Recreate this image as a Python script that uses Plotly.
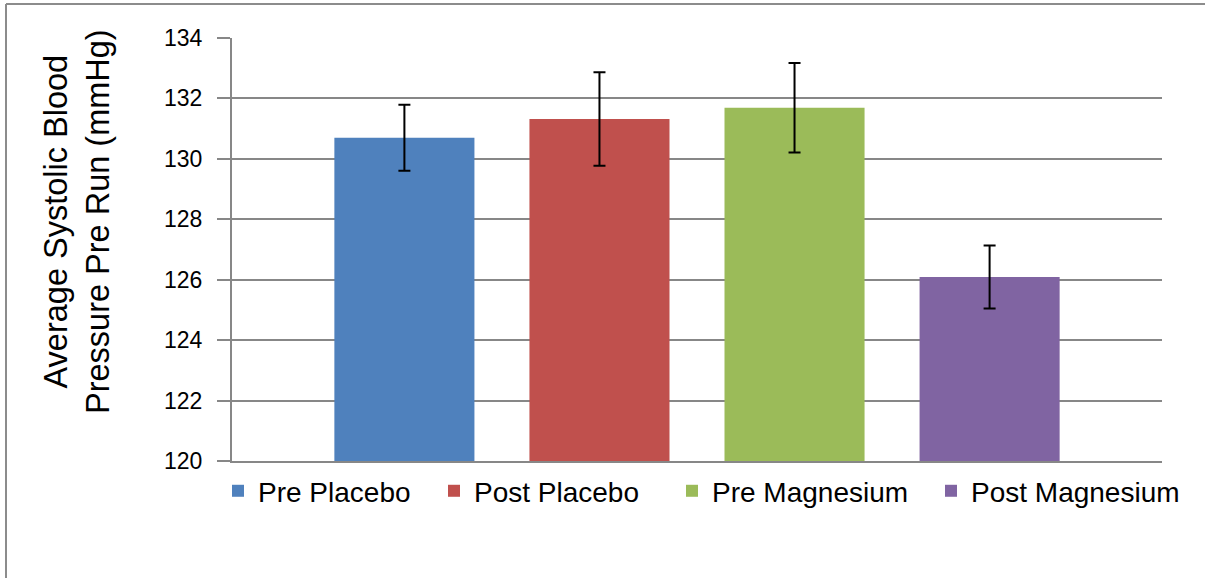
import plotly.graph_objects as go

categories = ["Pre Placebo", "Post Placebo", "Pre Magnesium", "Post Magnesium"]
values = [130.7, 131.32, 131.69, 126.09]
errors = [1.09, 1.55, 1.48, 1.04]
colors = ["#4F81BD", "#C0504D", "#9BBB59", "#8064A2"]
y_ticks = [120, 122, 124, 126, 128, 130, 132, 134]
y_title = "Average Systolic Blood<br>Pressure Pre Run (mmHg)"

FONT = "Liberation Sans, Arial, sans-serif"
GRID = "#878787"

L, T = 232, 38
PW = 1205 - L          # paper width (margin r = 0)
PH = 578 - T - 117     # paper height
AXW = 930              # axis width in px

def px(x):
    return (x - L) / PW

def py(y):
    return 1 - (y - T) / PH

legend_ids = ["legend", "legend2", "legend3", "legend4"]
legend_left = [218, 434, 672, 931]

fig = go.Figure()
for name, v, e, c, lid in zip(categories, values, errors, colors, legend_ids):
    fig.add_trace(go.Bar(
        x=["group"], y=[v], name=name, legend=lid,
        marker=dict(color=c, line=dict(width=0)),
        error_y=dict(type="data", array=[e], visible=True,
                     color="black", thickness=2, width=6),
    ))

legends = {}
for lid, lx in zip(legend_ids, legend_left):
    legends[lid] = dict(orientation="h", x=px(lx), xanchor="left",
                        y=-0.012, yanchor="top",
                        font=dict(size=28, family=FONT, color="black"),
                        bgcolor="rgba(0,0,0,0)")

fig.update_layout(
    width=1205, height=578,
    margin=dict(l=L, r=0, t=T, b=117),
    paper_bgcolor="white", plot_bgcolor="white",
    barmode="group", bargap=0.161, bargroupgap=0.282,
    font=dict(family=FONT, color="black"),
    showlegend=True,
    xaxis=dict(domain=[0, AXW / PW], showticklabels=False, showgrid=False,
               showline=True, linecolor=GRID, linewidth=2, ticks=""),
    yaxis=dict(range=[120, 134], tickvals=y_ticks, showgrid=True,
               gridcolor=GRID, gridwidth=1.5, showline=True, linecolor=GRID,
               linewidth=2, ticks="outside", ticklen=13, tickcolor=GRID,
               tickwidth=1.5, zeroline=False, ticklabelstandoff=10,
               tickfont=dict(size=23, family=FONT, color="black")),
    annotations=[dict(text=y_title, xref="paper", yref="paper",
                      x=px(77), y=py(222),
                      xanchor="center", yanchor="middle", textangle=-90,
                      showarrow=False, font=dict(size=32.5, family=FONT, color="black"))],
    shapes=[
        dict(type="line", xref="paper", yref="paper",
             x0=px(6), x1=px(6), y0=py(4), y1=py(600),
             line=dict(color="#8C8C8C", width=2)),
        dict(type="line", xref="paper", yref="paper",
             x0=px(6), x1=px(1230), y0=py(4), y1=py(4),
             line=dict(color="#8C8C8C", width=2)),
    ],
    **legends,
)

fig.write_html("out.html", config={"displayModeBar": False},
               post_script="document.body.style.margin='0';document.body.style.overflow='hidden';")
